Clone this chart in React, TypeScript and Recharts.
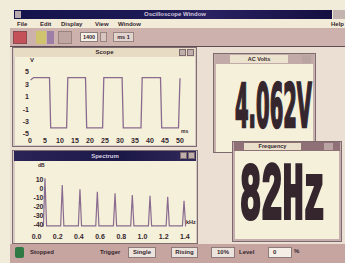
import { LineChart, Line, XAxis, YAxis } from 'recharts'

// scope trace: time in ms, level in volts
const scopeTimeMs = [0.2, 1.2, 6.5, 6.9, 12.2, 12.6, 18.5, 18.9, 24.2, 24.6, 30.7, 31.1, 37.0, 37.4, 43.5, 43.9, 49.5, 50.0]
const scopeVolts = [3.7, 4.1, 4.1, -4.0, -4.0, 4.1, 4.1, -4.0, -4.0, 4.1, 4.1, -4.0, -4.0, 4.1, 4.1, -4.0, -4.0, 4.0]
const scopeTicksV = [5, 3, 1, -1, -3, -5]
const scopeTicksMs = [0, 5, 10, 15, 20, 25, 30, 35, 40, 45, 50]

// spectrum: harmonic peaks (kHz, dB) over the noise floor
const harmonicKHz = [0.08, 0.243, 0.41, 0.574, 0.741, 0.904, 1.071, 1.238, 1.392]
const harmonicDb = [10.8, 3.3, -1.4, -4.1, -5.9, -7.8, -8.6, -9.7, -14.1]
const noiseFloorDb = -42
const floorStartKHz = 0.05
const floorEndKHz = 1.41
const spectrumTicksDb = [10, 0, -10, -20, -30, -40]
const spectrumTicksKHz = [0, 0.2, 0.4, 0.6, 0.8, 1.0, 1.2, 1.4]

const acVoltsReading = '4.062V'
const frequencyReading = '82Hz'
const menuItems = [
  { label: 'File', x: 17 },
  { label: 'Edit', x: 40 },
  { label: 'Display', x: 61 },
  { label: 'View', x: 95 },
  { label: 'Window', x: 118 },
]

const scopeData = scopeTimeMs.map((t, i) => ({ t, v: scopeVolts[i] }))

const peakHalfWidth = 0.015
const spectrumData: { f: number; db: number }[] = [{ f: floorStartKHz, db: noiseFloorDb }]
harmonicKHz.forEach((f, i) => {
  spectrumData.push({ f: f - peakHalfWidth, db: noiseFloorDb })
  spectrumData.push({ f, db: harmonicDb[i] })
  spectrumData.push({ f: f + peakHalfWidth, db: noiseFloorDb })
})
spectrumData.push({ f: floorEndKHz, db: noiseFloorDb })

const TRACE = '#8a6b8f'
const INK = '#35262e'
const PAPER = '#f5f0da'
const FONT = '"Liberation Sans", Arial, sans-serif'

const abs = (x: number, y: number, w: number, h: number, extra: any = {}) => ({
  position: 'absolute' as const,
  left: x,
  top: y,
  width: w,
  height: h,
  boxSizing: 'border-box' as const,
  ...extra,
})

const tickStyle = { fill: INK, fontSize: 7, fontWeight: 700, fontFamily: FONT }

function TitleButtons({ x, y }: { x: number; y: number }) {
  return (
    <>
      <div style={abs(x, y, 7, 7, { background: '#bfaeaa', border: '1px solid #7c6a6e' })} />
      <div style={abs(x + 8, y, 7, 7, { background: '#bfaeaa', border: '1px solid #7c6a6e' })} />
    </>
  )
}

function ScopeWindow() {
  return (
    <>
      <div style={abs(12, 47, 185, 100, { background: '#d8c9c3', border: '1px solid #7d6c70' })} />
      <div style={abs(14, 48, 181, 9, { background: '#e7dcc3' })} />
      <div style={abs(14, 48, 181, 9, { color: INK, fontSize: 6, fontWeight: 700, textAlign: 'center', lineHeight: '9px' })}>
        Scope
      </div>
      <TitleButtons x={179} y={49} />
      <div style={abs(15, 57, 180, 88, { background: PAPER })} />
      <div style={abs(15, 57, 180, 88)}>
        <LineChart width={180} height={88} data={scopeData} margin={{ top: 15, right: 15, bottom: 0, left: 0 }}>
          <XAxis
            dataKey="t"
            type="number"
            domain={[0, 50]}
            ticks={scopeTicksMs}
            axisLine={false}
            tickLine={false}
            tickSize={0}
            tickMargin={4.5}
            height={11}
            tick={tickStyle}
            interval={0}
          />
          <YAxis
            type="number"
            domain={[-5, 5]}
            ticks={scopeTicksV}
            axisLine={false}
            tickLine={false}
            tickSize={0}
            tickMargin={1}
            width={15}
            tick={tickStyle}
            interval={0}
          />
          <Line dataKey="v" type="linear" stroke={TRACE} strokeWidth={1.3} dot={false} isAnimationActive={false} />
        </LineChart>
      </div>
      <div style={abs(30, 57, 10, 9, { color: INK, fontSize: 6, fontWeight: 700 })}>V</div>
      <div style={abs(181, 128, 14, 8, { color: INK, fontSize: 5, fontWeight: 700 })}>ms</div>
    </>
  )
}

function SpectrumTick(props: any) {
  const { x, y, payload } = props
  return (
    <text x={x + 7} y={y} dy={2.5} textAnchor="end" {...tickStyle}>
      {payload.value}
    </text>
  )
}

function SpectrumWindow() {
  return (
    <>
      <div style={abs(12, 150, 186, 94, { background: '#d8c9c3', border: '1px solid #7d6c70' })} />
      <div style={abs(14, 151, 182, 10, { background: 'linear-gradient(90deg,#2a2456,#1b1848 60%,#30285a)' })} />
      <div style={abs(14, 151, 182, 10, { color: '#d9d2e2', fontSize: 6, fontWeight: 700, textAlign: 'center', lineHeight: '10px' })}>
        Spectrum
      </div>
      <TitleButtons x={180} y={152} />
      <div style={abs(15, 161, 181, 82, { background: PAPER })} />
      <div style={abs(15, 162, 182, 80)}>
        <LineChart width={182} height={80} data={spectrumData} margin={{ top: 8, right: 10, bottom: 0, left: 0 }}>
          <XAxis
            dataKey="f"
            type="number"
            domain={[0, 1.42]}
            ticks={spectrumTicksKHz}
            tickFormatter={(v: number) => v.toFixed(1)}
            axisLine={false}
            tickLine={false}
            tickSize={0}
            tickMargin={6}
            height={13.5}
            tick={tickStyle}
            interval={0}
          />
          <YAxis
            type="number"
            domain={[-45, 20]}
            ticks={spectrumTicksDb}
            axisLine={false}
            tickLine={false}
            tickSize={0}
            tickMargin={0}
            width={21.5}
            tick={<SpectrumTick />}
            interval={0}
          />
          <Line dataKey="db" type="linear" stroke={TRACE} strokeWidth={1.2} dot={false} isAnimationActive={false} />
        </LineChart>
      </div>
      <div style={abs(38, 162, 12, 8, { color: INK, fontSize: 5, fontWeight: 700 })}>dB</div>
      <div style={abs(186, 219, 12, 8, { color: INK, fontSize: 5.5, fontWeight: 700 })}>kHz</div>
    </>
  )
}

function AcVoltsWindow() {
  return (
    <>
      <div style={abs(213, 53, 103, 100, { background: '#c7b1af', border: '1px solid #7d6a6e' })} />
      <div style={abs(215, 54, 99, 10, { background: '#c2aaa8' })} />
      <div style={abs(230, 55, 58, 8, { background: '#ece3cf', color: INK, fontSize: 5.5, fontWeight: 700, textAlign: 'center', lineHeight: '8px' })}>
        AC Volts
      </div>
      <div style={abs(302, 55, 9, 8, { background: '#b9a4a2' })} />
      <div style={abs(216, 64, 97, 88, { background: PAPER })} />
      <svg style={abs(213, 64, 103, 80, { overflow: 'visible' })} width={103} height={80}>
        <text
          transform="translate(22 63) scale(0.326 1)"
          fontSize={60}
          fontWeight={700}
          fontFamily='"DejaVu Sans", sans-serif'
          fill={INK}
          stroke={INK}
          strokeWidth={2.5}
        >
          {acVoltsReading}
        </text>
      </svg>
    </>
  )
}

function FrequencyWindow() {
  return (
    <>
      <div style={abs(232, 141, 110, 101, { background: '#c5aead', border: '1px solid #7d6a6e' })} />
      <div style={abs(234, 142, 106, 9, { background: '#8f7076' })} />
      <div style={abs(244, 143, 57, 7, { background: '#e9dfca', color: INK, fontSize: 5.5, fontWeight: 700, textAlign: 'center', lineHeight: '7px' })}>
        Frequency
      </div>
      <div style={abs(324, 143, 9, 7, { background: '#b9a4a2' })} />
      <div style={abs(235, 151, 104, 88, { background: PAPER })} />
      <svg style={abs(232, 151, 110, 100, { overflow: 'visible' })} width={110} height={100}>
        <text
          transform="translate(8 67) scale(0.443 1)"
          fontSize={80}
          fontWeight={700}
          fontFamily='"Liberation Mono", "Courier New", monospace'
          fill={INK}
          stroke={INK}
          strokeWidth={4}
        >
          {frequencyReading}
        </text>
      </svg>
    </>
  )
}

export default function App() {
  return (
    <div style={abs(0, 0, 345, 263, { position: 'fixed', overflow: 'hidden', background: '#f1ebda', fontFamily: FONT })}>
      {/* app title bar */}
      <div style={abs(14, 10, 318, 9, { background: 'linear-gradient(90deg,#15134c,#1d1a55 45%,#2a2262 60%,#140f40)' })} />
      <div style={abs(15, 11, 6, 7, { background: '#b8a9ad' })} />
      <div style={abs(120, 10, 110, 9, { color: '#cfc6dc', fontSize: 6, fontWeight: 700, textAlign: 'center', lineHeight: '9px' })}>
        Oscilloscope Window
      </div>
      <div style={abs(333, 10, 12, 9, { background: '#c4b4b0' })} />

      {/* menu bar */}
      <div style={abs(12, 19, 333, 9, { background: '#f2ebd8' })} />
      {menuItems.map((m) => (
        <div key={m.label} style={abs(m.x, 20, 30, 8, { color: INK, fontSize: 6, fontWeight: 700, lineHeight: '8px' })}>
          {m.label}
        </div>
      ))}
      <div style={abs(331, 20, 14, 8, { color: INK, fontSize: 6, fontWeight: 700, lineHeight: '8px' })}>Help</div>

      {/* tool bar */}
      <div style={abs(10, 28, 335, 18, { background: '#ccb1ac' })} />
      <div style={abs(13, 31, 14, 13, { background: '#c4505a', border: '1px solid #8a4a50' })} />
      <div style={abs(36, 31, 10, 13, { background: '#cfc36e' })} />
      <div style={abs(47, 31, 7, 13, { background: '#9c7ea6' })} />
      <div style={abs(58, 31, 14, 13, { background: '#bfa6a2', border: '1px solid #9a8480' })} />
      <div style={abs(80, 32, 18, 10, { background: '#f6f1e6', border: '1px solid #8d7b7c', color: INK, fontSize: 5.5, fontWeight: 700, textAlign: 'center', lineHeight: '8px' })}>
        1400
      </div>
      <div style={abs(100, 32, 7, 10, { background: '#d6c5c0', border: '1px solid #9a8480' })} />
      <div style={abs(113, 32, 21, 10, { background: '#e2d4cf', border: '1px solid #9a8480', color: INK, fontSize: 5.5, fontWeight: 700, textAlign: 'center', lineHeight: '8px' })}>
        ms 1
      </div>
      <div style={abs(10, 46, 335, 1, { background: '#5e4c52' })} />

      {/* MDI client area */}
      <div style={abs(10, 47, 335, 197, { background: '#eadfd2' })} />

      <ScopeWindow />
      <SpectrumWindow />
      <AcVoltsWindow />
      <FrequencyWindow />

      {/* status bar */}
      <div style={abs(10, 244, 335, 19, { background: '#c6a5a1' })} />
      <div style={abs(15, 247, 9, 11, { background: '#2f7a44', borderRadius: 2 })} />
      <div style={abs(30, 248, 40, 9, { color: INK, fontSize: 6, fontWeight: 700, lineHeight: '9px' })}>Stopped</div>
      <div style={abs(100, 248, 26, 9, { color: INK, fontSize: 6, fontWeight: 700, lineHeight: '9px' })}>Trigger</div>
      <div style={abs(128, 247, 28, 11, { background: '#ece4dc', border: '1px solid #8d7b7c', color: INK, fontSize: 6, fontWeight: 700, textAlign: 'center', lineHeight: '9px' })}>
        Single
      </div>
      <div style={abs(171, 247, 27, 11, { background: '#ece4dc', border: '1px solid #8d7b7c', color: INK, fontSize: 6, fontWeight: 700, textAlign: 'center', lineHeight: '9px' })}>
        Rising
      </div>
      <div style={abs(211, 247, 24, 11, { background: '#ece4dc', border: '1px solid #8d7b7c', color: INK, fontSize: 6, fontWeight: 700, textAlign: 'center', lineHeight: '9px' })}>
        10%
      </div>
      <div style={abs(239, 248, 20, 9, { color: INK, fontSize: 6, fontWeight: 700, lineHeight: '9px' })}>Level</div>
      <div style={abs(268, 247, 24, 11, { background: '#f4eee6', border: '1px solid #8d7b7c', color: INK, fontSize: 6, fontWeight: 700, lineHeight: '9px', paddingLeft: 4 })}>
        0
      </div>
      <div style={abs(294, 247, 12, 11, { color: INK, fontSize: 6, fontWeight: 700, lineHeight: '9px' })}>%</div>
    </div>
  )
}
